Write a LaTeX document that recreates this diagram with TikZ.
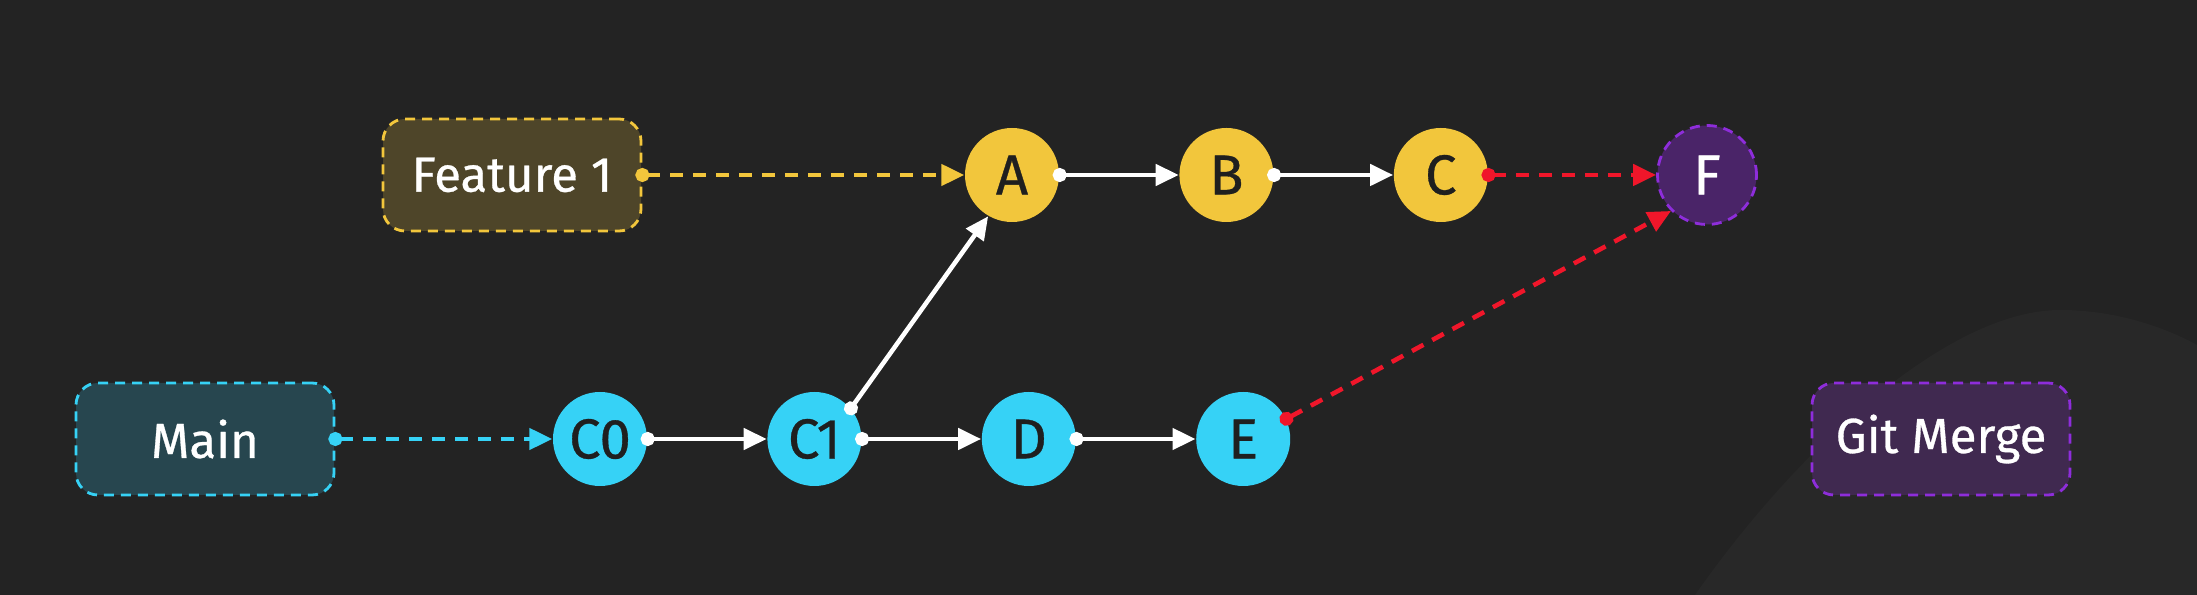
\documentclass[tikz,border=0pt]{standalone}
\usepackage{fontspec}
\setmainfont{Fira Sans}[FakeBold=0.6]
\usepackage{tikz}
\usetikzlibrary{arrows.meta,positioning,shapes,calc}

\definecolor{bgc}{HTML}{232323}
\definecolor{bgcurve}{HTML}{282828}
\definecolor{yel}{HTML}{F2C63C}
\definecolor{featfill}{HTML}{4E4529}
\definecolor{cya}{HTML}{36D2F6}
\definecolor{mainfill}{HTML}{27464F}
\definecolor{pur}{HTML}{8E2DDB}
\definecolor{purfill}{HTML}{4A2468}
\definecolor{mergefill}{HTML}{402950}
\definecolor{mergered}{HTML}{F0162A}
\definecolor{textdark}{HTML}{1F1F1F}

\begin{document}
\begin{tikzpicture}[
  node distance=11.9mm,
  every node/.style={font=\fontsize{14}{16}\selectfont},
  commit/.style={circle, minimum size=9.4mm, inner sep=0pt, text=textdark,
    font=\fontsize{16}{18}\selectfont},
  branchbox/.style={draw, line width=0.8pt, dash pattern=on 1mm off 0.7mm, rounded corners=2.2mm,
    minimum width=25.8mm, minimum height=11.2mm, text=white},
  link/.style={white, line width=1.3pt, shorten <=-0.7mm,
    {Circle[length=1.4mm]}-{Triangle[length=2.3mm,width=2.1mm]}},
  dashlink/.style={link, dash pattern=on 1.3mm off 1mm},
  >=Stealth
]
% background
\fill[bgc] (0,0) rectangle (21.97,5.95);
\fill[bgcurve] (16.95,0) .. controls (18.0,1.5) and (19.5,2.85) .. (20.6,2.85)
  .. controls (21.2,2.85) and (21.7,2.65) .. (21.97,2.5) -- (21.97,0) -- cycle;
\useasboundingbox (0,0) rectangle (21.97,5.95);

% feature branch
\node[branchbox, fill=featfill, draw=yel] (feature) at (5.12,4.2) {Feature 1};
\node[commit, fill=yel] (a) at (10.12,4.2) {A};
\node[commit, fill=yel, right=of a] (b) {B};
\node[commit, fill=yel, right=of b] (c) {C};
\node[commit, fill=purfill, draw=pur, line width=0.8pt, dash pattern=on 1mm off 0.7mm,
  text=white, minimum size=9.9mm] (f) at (17.07,4.2) {F};

% main branch
\node[branchbox, fill=mainfill, draw=cya] (main) at (2.05,1.56) {Main};
\node[commit, fill=cya] (c0) at (6.0,1.56) {C0};
\node[commit, fill=cya, right=of c0] (c1) {C1};
\node[commit, fill=cya, right=of c1] (d) {D};
\node[commit, fill=cya, right=of d] (e) {E};
\node[branchbox, fill=mergefill, draw=pur] (merge) at (19.41,1.56) {Git Merge};

\draw[dashlink, yel] (feature) -- (a);
\draw[dashlink, cya] (main) -- (c0);
\draw[link] (a) -- (b);
\draw[link] (b) -- (c);
\draw[link] (c0) -- (c1);
\draw[link] (c1) -- (d);
\draw[link] (d) -- (e);
\draw[link] (c1.40) -- (a.240);
\draw[dashlink, mergered] (c) -- (f);
\draw[dashlink, mergered] (e.25) -- (f.225);
\end{tikzpicture}
\end{document}
